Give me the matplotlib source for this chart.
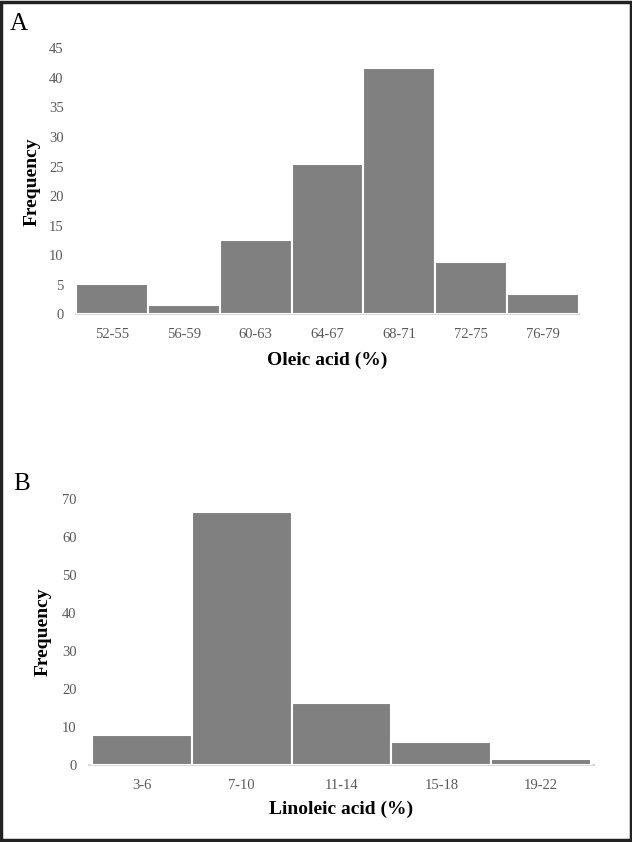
import matplotlib
matplotlib.use("Agg")
import matplotlib.pyplot as plt
from matplotlib.patches import Rectangle

# Data
oleic_bins = ['52-55', '56-59', '60-63', '64-67', '68-71', '72-75', '76-79']
oleic_freq = [5.2, 1.5, 12.6, 25.4, 41.7, 8.8, 3.4]

linoleic_bins = ['3-6', '7-10', '11-14', '15-18', '19-22']
linoleic_freq = [7.8, 66.7, 16.3, 6.0, 1.7]

plt.rcParams['font.family'] = ['Liberation Serif', 'DejaVu Serif']

W, H = 632, 842
fig = plt.figure(figsize=(W / 100, H / 100), dpi=100)

bar_color = '#808080'
tick_color = '#595959'


def px_axes(left, right, top, bottom):
    # convert pixel box to figure fraction
    return [left / W, 1 - bottom / H, (right - left) / W, (bottom - top) / H]


def hist_panel(ax, labels, values, ymax, step, xpad):
    x = range(len(labels))
    ax.bar(x, values, width=1.0, color=bar_color, edgecolor='white', linewidth=1.5)
    ax.set_xlim(-0.5 - xpad, len(labels) - 0.5 + xpad)
    ax.set_ylim(0, ymax)
    ax.set_yticks(range(0, ymax + 1, step))
    ax.set_xticks(list(x))
    ax.set_xticklabels(labels)
    for s in ['top', 'right', 'left']:
        ax.spines[s].set_visible(False)
    ax.spines['bottom'].set_color('#d9d9d9')
    ax.spines['bottom'].set_linewidth(1.5)
    ax.spines['bottom'].set_zorder(0)
    ax.tick_params(axis='both', length=0, labelsize=10.5, labelcolor=tick_color)
    ax.tick_params(axis='y', pad=9)
    ax.tick_params(axis='x', pad=10)


# Panel A
axA = fig.add_axes(px_axes(76, 579, 48.3, 314.3))
hist_panel(axA, oleic_bins, oleic_freq, 45, 5, 0.0)
fig.text(327.5 / W, 1 - 360 / H, 'Oleic acid (%)', ha='center', va='center',
         fontsize=14, fontweight='bold')
fig.text(32 / W, 1 - 182 / H, 'Frequency', ha='center', va='center',
         rotation=90, fontsize=14, fontweight='bold')
fig.text(19 / W, 1 - 24 / H, 'A', ha='center', va='center', fontsize=18)

# Panel B
axB = fig.add_axes(px_axes(89, 594, 499, 765))
hist_panel(axB, linoleic_bins, linoleic_freq, 70, 10, 0.03)
fig.text(341 / W, 1 - 809 / H, 'Linoleic acid (%)', ha='center', va='center',
         fontsize=14, fontweight='bold')
fig.text(43 / W, 1 - 632 / H, 'Frequency', ha='center', va='center',
         rotation=90, fontsize=14, fontweight='bold')
fig.text(22 / W, 1 - 484 / H, 'B', ha='center', va='center', fontsize=18)

# outer frame
fig.patches.append(Rectangle((0.002, 0.002), 0.996, 0.996, transform=fig.transFigure,
                             fill=False, edgecolor='#222222', linewidth=2.5))

fig.savefig('out.png', dpi=100)
